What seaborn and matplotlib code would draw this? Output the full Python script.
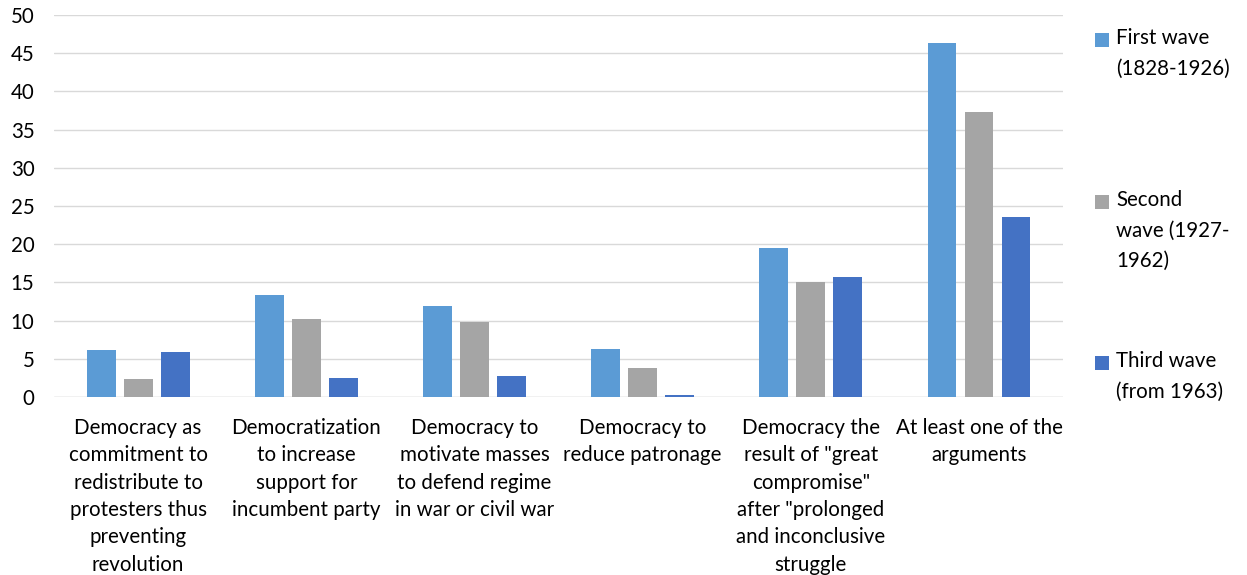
import matplotlib
matplotlib.use("Agg")
import matplotlib.pyplot as plt
from matplotlib.patches import Rectangle
import seaborn as sns
import pandas as pd

categories = [
    "Democracy as\ncommitment to\nredistribute to\nprotesters thus\npreventing\nrevolution",
    "Democratization\nto increase\nsupport for\nincumbent party",
    "Democracy to\nmotivate masses\nto defend regime\nin war or civil war",
    "Democracy to\nreduce patronage",
    "Democracy the\nresult of \"great\ncompromise\"\nafter \"prolonged\nand inconclusive\nstruggle",
    "At least one of the\narguments",
]
series = ["First wave (1828-1926)", "Second wave (1927-1962)", "Third wave (from 1963)"]
legend_labels = ["First wave\n(1828-1926)", "Second\nwave (1927-\n1962)", "Third wave\n(from 1963)"]
first_wave = [6.2, 13.3, 11.9, 6.3, 19.5, 46.3]
second_wave = [2.3, 10.2, 9.8, 3.8, 15.1, 37.3]
third_wave = [5.9, 2.5, 2.7, 0.3, 15.7, 23.5]
colors = ["#5B9BD5", "#A5A5A5", "#4472C4"]
y_ticks = [0, 5, 10, 15, 20, 25, 30, 35, 40, 45, 50]

rows = []
for name, values in zip(series, [first_wave, second_wave, third_wave]):
    for cat, v in zip(categories, values):
        rows.append({"category": cat, "wave": name, "value": v})
df = pd.DataFrame(rows)

sns.set_theme(style="white")
plt.rcParams["font.family"] = ["Lato", "DejaVu Sans"]

fig = plt.figure(figsize=(12.47, 5.75), dpi=100)
ax = fig.add_axes([0.0433, 0.3096, 0.8092, 0.6644])

sns.barplot(data=df, x="category", y="value", hue="wave", order=categories,
            hue_order=series, palette=colors, width=0.66, gap=0.22,
            linewidth=0, saturation=1, errorbar=None, legend=False, ax=ax)

ax.set_ylim(0, 50)
ax.set_yticks(y_ticks)
ax.set_xlim(-0.5, len(categories) - 0.5)
ax.yaxis.grid(True, color="#D9D9D9", linewidth=1.0)
ax.set_axisbelow(True)
for s in ax.spines.values():
    s.set_visible(False)
ax.axhline(0, color="#D9D9D9", linewidth=1.0, zorder=0)
ax.set_xlabel("")
ax.set_ylabel("")
ax.tick_params(axis="both", length=0, labelsize=14.8, colors="#000000")
ax.tick_params(axis="x", pad=15)
ax.tick_params(axis="y", pad=14)
for lab in ax.get_xticklabels():
    lab.set_linespacing(1.46)

# Legend on the right, entries spread evenly down the plot height
fw, fh = fig.get_size_inches() * fig.dpi
entry_y = [40, 202, 363]
for lbl, col, yc in zip(legend_labels, colors, entry_y):
    sq = 14
    fig.patches.append(Rectangle((1095 / fw, 1 - (yc + sq / 2) / fh), sq / fw, sq / fh,
                                 transform=fig.transFigure, facecolor=col,
                                 edgecolor="none"))
    fig.text(1116 / fw, 1 - (yc - 12) / fh, lbl, ha="left", va="top",
             fontsize=14.8, linespacing=1.65, color="#000000")

fig.savefig("out.png", dpi=100)
